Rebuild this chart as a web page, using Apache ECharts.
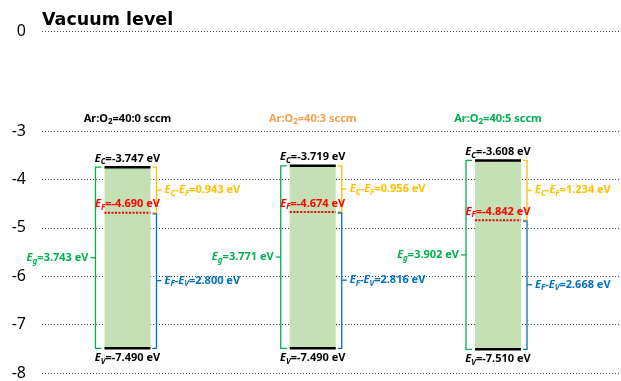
<!DOCTYPE html>
<html>
<head>
    <meta charset="utf-8">
    <script src="https://cdn.jsdelivr.net/npm/echarts@6/dist/echarts.min.js"></script>
</head>
<body style="margin:0">
    <div id="main" style="width: 621px;height:381px;"></div>
    <script type="text/javascript">

    // gas ratio of each sample (Ar:O2, sccm)
    var gasRatios = ['40:0', '40:3', '40:5'];
    // band edges, eV
    var ecValues = [-3.747, -3.719, -3.608];
    var efValues = [-4.690, -4.674, -4.842];
    var evValues = [-7.490, -7.490, -7.510];
    // differences as written on the chart
    var bandGaps = [3.743, 3.771, 3.902];
    var ecMinusEf = [0.943, 0.956, 1.234];
    var efMinusEv = [2.800, 2.816, 2.668];
    // y axis ticks
    var vacuumTicks = [0];
    var mainTicks = [-3, -4, -5, -6, -7, -8];

    var titleColors = ['#000000', '#f5a04c', '#00b050'];
    var FONT = 'Noto Sans';

    var data = gasRatios.map(function (g, i) {
        return [i, ecValues[i], efValues[i], evValues[i]];
    });

    function richFor(color) {
        return {
            i: { fontStyle: 'italic', fill: color, fontSize: 11, fontWeight: 'bold', fontFamily: FONT },
            s: { fontStyle: 'italic', fill: color, fontSize: 8, fontWeight: 'bold', fontFamily: FONT, padding: [7, 0, 0, 0] },
            d: { fill: color, fontSize: 8, fontWeight: 'bold', fontFamily: FONT, padding: [6, 0, 0, 0] }
        };
    }

    function txt(x, y, text, color, align, vAlign) {
        return {
            type: 'text',
            style: {
                x: x, y: y, text: text, fill: color,
                align: align, verticalAlign: vAlign,
                fontSize: 11, fontWeight: 'bold', fontFamily: FONT,
                rich: richFor(color)
            }
        };
    }

    function pline(points, color, width, dash) {
        return {
            type: 'polyline',
            shape: { points: points },
            style: { stroke: color, lineWidth: width, fill: null, lineDash: dash || null }
        };
    }

    function renderItem(params, api) {
        var i = params.dataIndex;
        var x = api.value(0);
        var cx = api.coord([x, api.value(1)])[0];
        var yC = api.coord([x, api.value(1)])[1];
        var yF = api.coord([x, api.value(2)])[1];
        var yV = api.coord([x, api.value(3)])[1];
        var yHead = api.coord([x, mainTicks[0]])[1] - 12;
        var hw = 23;
        var L = cx - hw, R = cx + hw;
        var gX = L - 9, bX = R + 6;
        var yG = (yC + yV) / 2, yCF = (yC + yF) / 2, yFV = (yF + yV) / 2;

        return {
            type: 'group',
            children: [
                { type: 'rect', shape: { x: L, y: yC, width: 2 * hw, height: yV - yC }, style: { fill: '#c5e0b4' } },
                pline([[L, yC], [R, yC]], '#000', 2.5),
                pline([[L, yV], [R, yV]], '#000', 2.5),
                pline([[L, yF], [R, yF]], '#ff0000', 2, [2, 1.5]),
                // Eg bracket
                pline([[L - 3, yC], [gX, yC], [gX, yV], [L - 3, yV]], '#00b050', 1.3),
                pline([[gX, yG], [gX - 5, yG]], '#00b050', 1.3),
                // Ec - Ef bracket
                pline([[R + 2, yC], [bX, yC], [bX, yF], [R + 2, yF]], '#ffc000', 1.3),
                pline([[bX, yCF], [bX + 5, yCF]], '#ffc000', 1.3),
                // Ef - Ev bracket
                pline([[R + 2, yF + 1], [bX, yF + 1], [bX, yV], [R + 2, yV]], '#0070c0', 1.3),
                pline([[bX, yFV], [bX + 5, yFV]], '#0070c0', 1.3),
                txt(cx, yHead, 'Ar:O{d|2}=' + gasRatios[i] + ' sccm', titleColors[i], 'center', 'middle'),
                txt(cx, yC - 1, '{i|E}{s|C}=' + ecValues[i].toFixed(3) + ' eV', '#000000', 'center', 'bottom'),
                txt(cx, yF - 1, '{i|E}{s|F}=' + efValues[i].toFixed(3) + ' eV', '#ff0000', 'center', 'bottom'),
                txt(cx, yV + 2, '{i|E}{s|V}=' + evValues[i].toFixed(3) + ' eV', '#000000', 'center', 'top'),
                txt(gX - 7, yG, '{i|E}{s|g}=' + bandGaps[i].toFixed(3) + ' eV', '#00b050', 'right', 'middle'),
                txt(bX + 8, yCF, '{i|E}{s|C}-{i|E}{s|F}=' + ecMinusEf[i].toFixed(3) + ' eV', '#ffc000', 'left', 'middle'),
                txt(bX + 8, yFV, '{i|E}{s|F}-{i|E}{s|V}=' + efMinusEv[i].toFixed(3) + ' eV', '#0070c0', 'left', 'middle')
            ]
        };
    }

    var splitStyle = { show: true, lineStyle: { color: '#444', width: 1, type: [1, 2] } };
    var labelStyle = { color: '#000', fontSize: 16, fontFamily: FONT, margin: 16 };

    var myChart = echarts.init(document.getElementById('main'));

    myChart.setOption({
        animation: false,
        title: {
            text: 'Vacuum level',
            left: 37,
            top: 6,
            textStyle: { fontSize: 17.5, fontWeight: 'bold', color: '#000', fontFamily: 'DejaVu Sans' }
        },
        grid: [
            { left: 42, right: 0, top: 31, height: 49.6 },
            { left: 42, right: 0, top: 131, bottom: 2 }
        ],
        xAxis: [
            { gridIndex: 0, type: 'value', min: 0, max: 1, show: false },
            { gridIndex: 1, type: 'value', min: -0.4615, max: 2.664, show: false }
        ],
        yAxis: [
            {
                gridIndex: 0, type: 'value',
                min: vacuumTicks[0] - 1, max: vacuumTicks[0], interval: 1,
                axisLine: { show: false }, axisTick: { show: false },
                axisLabel: Object.assign({ showMinLabel: false }, labelStyle),
                splitLine: Object.assign({ showMinLine: false }, splitStyle)
            },
            {
                gridIndex: 1, type: 'value',
                min: mainTicks[mainTicks.length - 1], max: mainTicks[0], interval: 1,
                axisLine: { show: false }, axisTick: { show: false },
                axisLabel: labelStyle,
                splitLine: splitStyle
            }
        ],
        series: [
            {
                type: 'custom',
                xAxisIndex: 1,
                yAxisIndex: 1,
                clip: false,
                renderItem: renderItem,
                encode: { x: 0, y: [1, 2, 3] },
                data: data
            }
        ]
    });

</script>
</body>
</html>
